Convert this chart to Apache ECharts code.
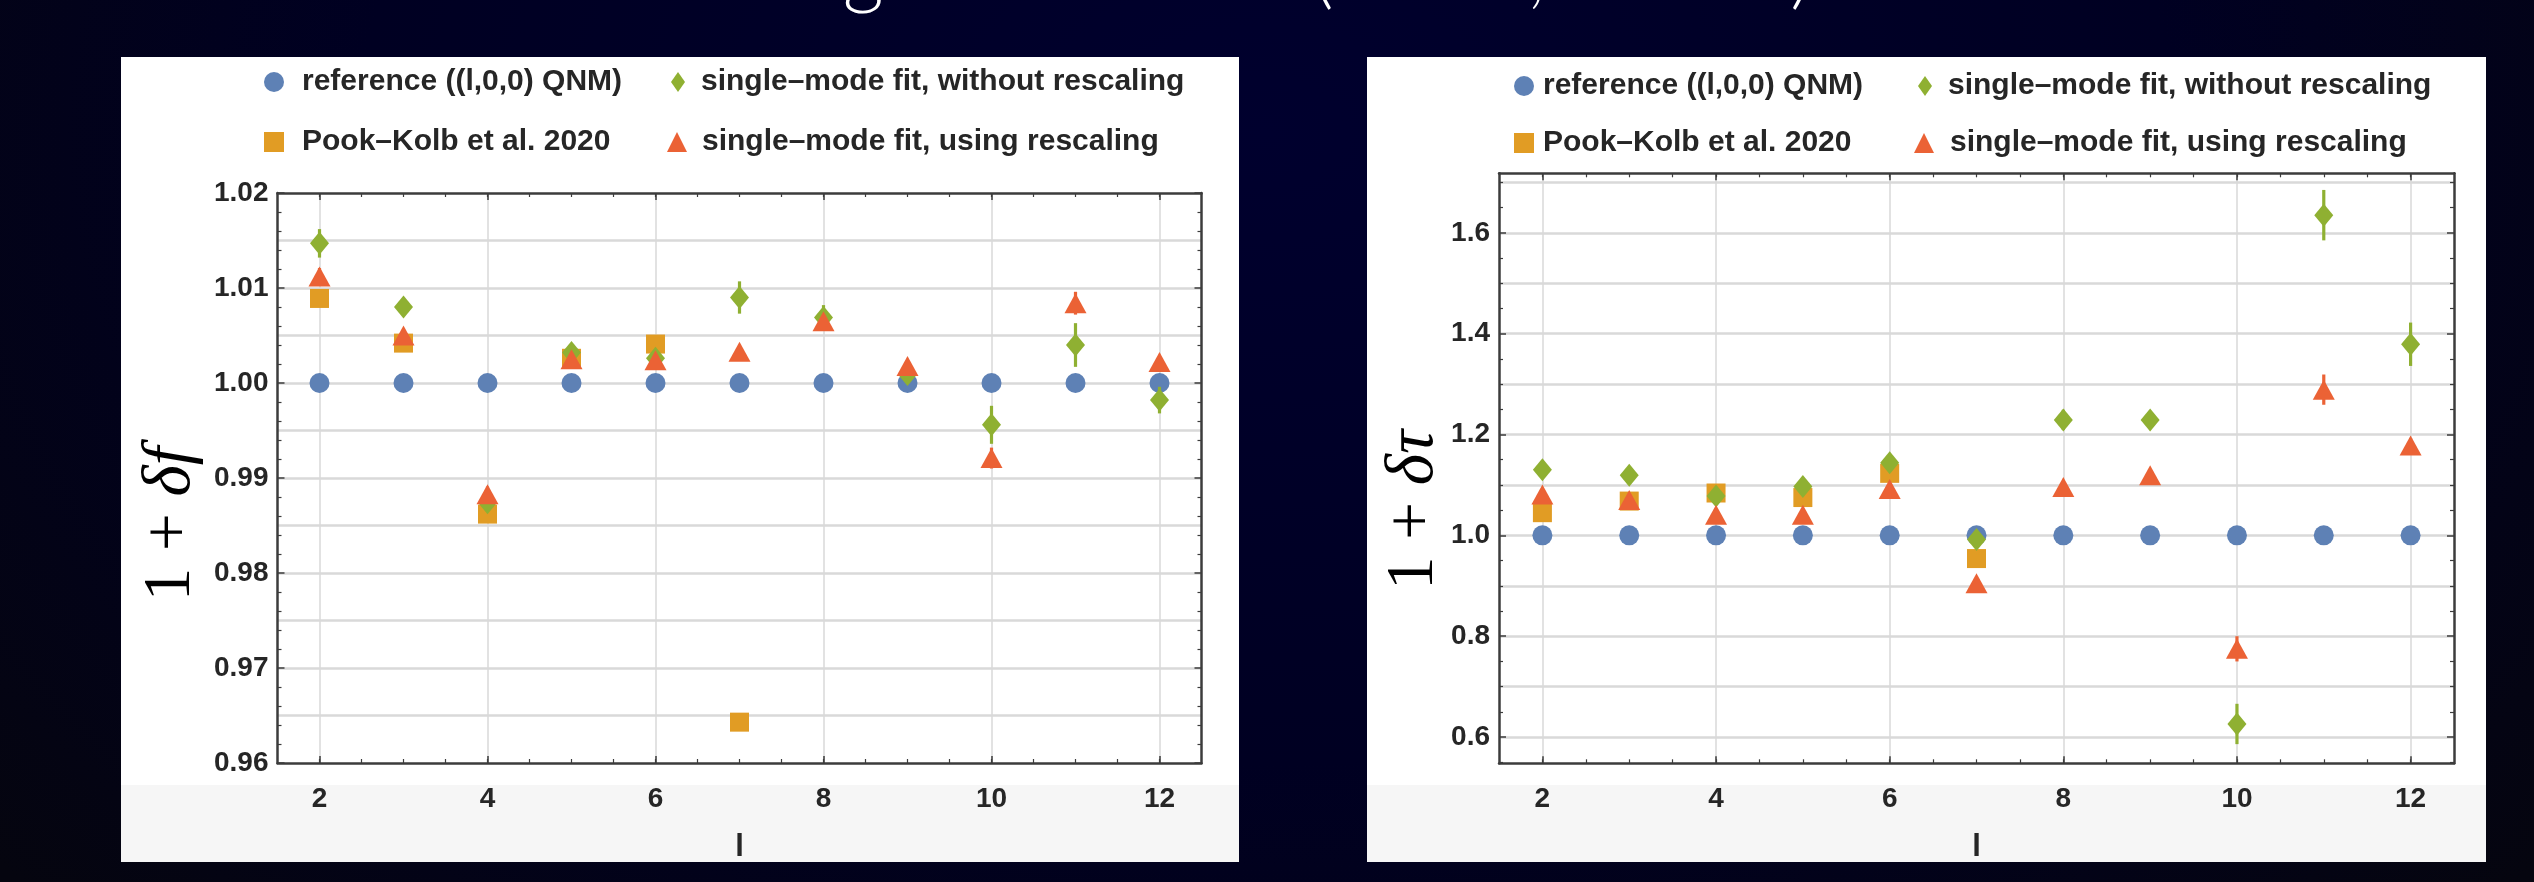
<!DOCTYPE html>
<html>
<head>
<meta charset="utf-8">
<script src="https://cdn.jsdelivr.net/npm/echarts@6/dist/echarts.min.js"></script>
<style>
  html, body { margin: 0; padding: 0; width: 2534px; height: 882px; overflow: hidden; }
  body {
    background: radial-gradient(ellipse 65% 130% at 50% 15%, #00002e 0%, #000022 55%, #05050f 100%);
  }
  .panel { position: absolute; top: 57px; height: 805px; background: #ffffff; }
  .panel .foot { position: absolute; left: 0; right: 0; bottom: 0; height: 77px; background: #f6f6f6; }
  #chart { position: absolute; left: 0; top: 0; width: 2534px; height: 882px; }
</style>
</head>
<body>
<div class="panel" style="left:121px;width:1118px"><div class="foot"></div></div>
<div class="panel" style="left:1367px;width:1119px"><div class="foot"></div></div>
<div id="chart"></div>
<script>
// ---- data: multipole index l and the fitted ratios ----
const ells = [2, 3, 4, 5, 6, 7, 8, 9, 10, 11, 12];
const pookElls = [2, 3, 4, 5, 6, 7];

// frequency ratio 1 + δf
const freqReference = [1, 1, 1, 1, 1, 1, 1, 1, 1, 1, 1];
const freqPookKolb = [1.0089, 1.0042, 0.9862, 1.0026, 1.0041, 0.9643];
const freqNoRescale = [1.0147, 1.0080, 0.9874, 1.0032, 1.0026, 1.0090, 1.0069, 1.0009, 0.9956, 1.0040, 0.9982];
const freqNoRescaleErr = [0.0015, 0.0003, 0.0003, 0.0003, 0.0003, 0.0017, 0.0013, 0.0003, 0.0020, 0.0023, 0.0014];
const freqRescale = [1.0112, 1.0050, 0.9883, 1.0025, 1.0024, 1.0033, 1.0065, 1.0018, 0.9921, 1.0084, 1.0022];
const freqRescaleErr = [0.0009, 0.0006, 0.0008, 0.0004, 0.0004, 0.0004, 0.0006, 0.0005, 0.0011, 0.0012, 0.0004];

// damping-time ratio 1 + δτ
const tauReference = [1, 1, 1, 1, 1, 1, 1, 1, 1, 1, 1];
const tauPookKolb = [1.045, 1.068, 1.084, 1.075, 1.123, 0.954];
const tauNoRescale = [1.130, 1.119, 1.078, 1.097, 1.144, 0.992, 1.229, 1.229, 0.626, 1.635, 1.379];
const tauNoRescaleErr = [0.008, 0.008, 0.008, 0.010, 0.015, 0.012, 0.020, 0.015, 0.040, 0.050, 0.043];
const tauRescale = [1.081, 1.070, 1.041, 1.041, 1.092, 0.905, 1.096, 1.119, 0.775, 1.289, 1.178];
const tauRescaleErr = [0.010, 0.008, 0.008, 0.008, 0.008, 0.010, 0.010, 0.010, 0.025, 0.030, 0.015];

// ---- ticks ----
const xTicks = [2, 4, 6, 8, 10, 12];
const xMinorTicks = [2, 2.5, 3, 3.5, 4, 4.5, 5, 5.5, 6, 6.5, 7, 7.5, 8, 8.5, 9, 9.5, 10, 10.5, 11, 11.5, 12];
const freqTicks = [0.96, 0.97, 0.98, 0.99, 1.00, 1.01, 1.02];
const freqMinorTicks = [0.962, 0.964, 0.966, 0.968, 0.972, 0.974, 0.976, 0.978, 0.982, 0.984, 0.986, 0.988,
  0.992, 0.994, 0.996, 0.998, 1.002, 1.004, 1.006, 1.008, 1.012, 1.014, 1.016, 1.018];
const freqGridLines = [0.965, 0.97, 0.975, 0.98, 0.985, 0.99, 0.995, 1.00, 1.005, 1.01, 1.015];
const tauTicks = [0.6, 0.8, 1.0, 1.2, 1.4, 1.6];
const tauMinorTicks = [0.55, 0.65, 0.7, 0.75, 0.85, 0.9, 0.95, 1.05, 1.1, 1.15, 1.25, 1.3, 1.35, 1.45, 1.5, 1.55, 1.65, 1.7];
const tauGridLines = [0.6, 0.7, 0.8, 0.9, 1.0, 1.1, 1.2, 1.3, 1.4, 1.5, 1.6, 1.7];

const legendNames = {
  ref: 'reference ((l,0,0) QNM)',
  pook: 'Pook\u2013Kolb et al. 2020',
  noResc: 'single\u2013mode fit, without rescaling',
  resc: 'single\u2013mode fit, using rescaling'
};

const colors = { ref: '#5e81b5', pook: '#e19c24', noResc: '#8fb032', resc: '#eb6235' };

const FONT = '"Liberation Sans", Arial, sans-serif';
const SERIF = '"Liberation Serif", "DejaVu Serif", serif';
const frameColor = '#3c3c3c';
const labelColor = '#262626';

// ---- axis builders: a Mathematica-style frame with inward ticks on all four sides ----
const xAxes = [];
const yAxes = [];

function addXAxes(gridIndex) {
  const base = { type: 'value', gridIndex, min: 1.5, max: 12.5 };
  const mainIdx = xAxes.length;
  xAxes.push(Object.assign({}, base, {
    position: 'bottom',
    axisLine: { show: true, onZero: false, lineStyle: { color: frameColor, width: 2.5 } },
    axisTick: { show: true, inside: true, length: 7, customValues: xTicks, lineStyle: { color: frameColor, width: 1.5 } },
    axisLabel: { show: true, customValues: xTicks, margin: 22, fontFamily: FONT, fontSize: 28, fontWeight: 'bold', color: labelColor },
    splitLine: { show: true, lineStyle: { color: '#d8d8d8', width: 1.5 } },
    name: 'l', nameLocation: 'middle', nameGap: 69,
    nameTextStyle: { fontFamily: FONT, fontSize: 31, fontWeight: 'bold', color: labelColor }
  }));
  xAxes.push(Object.assign({}, base, {
    position: 'bottom',
    axisLine: { show: false }, axisLabel: { show: false }, splitLine: { show: false },
    axisTick: { show: true, inside: true, length: 4, customValues: xMinorTicks, lineStyle: { color: frameColor, width: 1.2 } }
  }));
  xAxes.push(Object.assign({}, base, {
    position: 'top',
    axisLine: { show: true, onZero: false, lineStyle: { color: frameColor, width: 2.5 } },
    axisTick: { show: true, inside: true, length: 7, customValues: xTicks, lineStyle: { color: frameColor, width: 1.5 } },
    axisLabel: { show: false }, splitLine: { show: false }
  }));
  xAxes.push(Object.assign({}, base, {
    position: 'top',
    axisLine: { show: false }, axisLabel: { show: false }, splitLine: { show: false },
    axisTick: { show: true, inside: true, length: 4, customValues: xMinorTicks, lineStyle: { color: frameColor, width: 1.2 } }
  }));
  return mainIdx;
}

function addYAxes(gridIndex, min, max, ticks, minorTicks, gridLines, digits) {
  const base = { type: 'value', gridIndex, min, max };
  const mainIdx = yAxes.length;
  yAxes.push(Object.assign({}, base, {
    position: 'left',
    axisLine: { show: true, onZero: false, lineStyle: { color: frameColor, width: 2.5 } },
    axisTick: { show: true, inside: true, length: 7, customValues: ticks, lineStyle: { color: frameColor, width: 1.5 } },
    axisLabel: {
      show: true, customValues: ticks, margin: 9, fontFamily: FONT, fontSize: 28, fontWeight: 'bold', color: labelColor,
      formatter: v => v.toFixed(digits)
    },
    splitLine: { show: false }
  }));
  yAxes.push(Object.assign({}, base, {
    position: 'left',
    axisLine: { show: false }, axisLabel: { show: false }, splitLine: { show: false },
    axisTick: { show: true, inside: true, length: 4, customValues: minorTicks, lineStyle: { color: frameColor, width: 1.2 } }
  }));
  yAxes.push(Object.assign({}, base, {
    position: 'right',
    axisLine: { show: true, onZero: false, lineStyle: { color: frameColor, width: 2.5 } },
    axisTick: { show: true, inside: true, length: 7, customValues: ticks, lineStyle: { color: frameColor, width: 1.5 } },
    axisLabel: { show: false }, splitLine: { show: false }
  }));
  yAxes.push(Object.assign({}, base, {
    position: 'right',
    axisLine: { show: false }, axisLabel: { show: false }, splitLine: { show: false },
    axisTick: { show: true, inside: true, length: 4, customValues: minorTicks, lineStyle: { color: frameColor, width: 1.2 } }
  }));
  // horizontal grid lines
  yAxes.push(Object.assign({}, base, {
    position: 'left',
    axisLine: { show: false }, axisLabel: { show: false },
    axisTick: { show: false, customValues: gridLines },
    splitLine: { show: true, lineStyle: { color: '#d9d9d9', width: 2.6 } }
  }));
  return mainIdx;
}

const xL = addXAxes(0);
const yL = addYAxes(0, 0.96, 1.02, freqTicks, freqMinorTicks, freqGridLines, 2);
const xR = addXAxes(1);
const yR = addYAxes(1, 0.548, 1.718, tauTicks, tauMinorTicks, tauGridLines, 1);

// ---- series helpers ----
function pairs(xs, ys) { return xs.map((x, i) => [x, ys[i]]); }
function triples(xs, ys, es) { return xs.map((x, i) => [x, ys[i], es[i]]); }

function errorBarItem(params, api) {
  const x = api.value(0), y = api.value(1), e = api.value(2);
  const lo = api.coord([x, y - e]);
  const hi = api.coord([x, y + e]);
  return {
    type: 'line',
    shape: { x1: lo[0], y1: lo[1], x2: hi[0], y2: hi[1] },
    style: { stroke: api.visual('color'), lineWidth: 3.2 }
  };
}

function panelSeries(xi, yi, ref, pook, noResc, noRescErr, resc, rescErr) {
  const common = { xAxisIndex: xi, yAxisIndex: yi, silent: true };
  return [
    Object.assign({}, common, {
      type: 'scatter', name: legendNames.ref, data: pairs(ells, ref), z: 2,
      symbol: 'circle', symbolSize: 20, itemStyle: { color: colors.ref, opacity: 1 }
    }),
    Object.assign({}, common, {
      type: 'scatter', name: legendNames.pook, data: pairs(pookElls, pook), z: 3,
      symbol: 'rect', symbolSize: 19, itemStyle: { color: colors.pook, opacity: 1 }
    }),
    Object.assign({}, common, {
      type: 'custom', name: legendNames.noResc, data: triples(ells, noResc, noRescErr), z: 4,
      renderItem: errorBarItem, encode: { x: 0, y: 1 }, itemStyle: { color: colors.noResc }
    }),
    Object.assign({}, common, {
      type: 'scatter', name: legendNames.noResc, data: pairs(ells, noResc), z: 5,
      symbol: 'diamond', symbolSize: [19, 23], itemStyle: { color: colors.noResc, opacity: 1 }
    }),
    Object.assign({}, common, {
      type: 'custom', name: legendNames.resc, data: triples(ells, resc, rescErr), z: 6,
      renderItem: errorBarItem, encode: { x: 0, y: 1 }, itemStyle: { color: colors.resc }
    }),
    Object.assign({}, common, {
      type: 'scatter', name: legendNames.resc, data: pairs(ells, resc), z: 7,
      symbol: 'triangle', symbolSize: [22, 20], itemStyle: { color: colors.resc, opacity: 1 }
    })
  ];
}

const series = [].concat(
  panelSeries(xL, yL, freqReference, freqPookKolb, freqNoRescale, freqNoRescaleErr, freqRescale, freqRescaleErr),
  panelSeries(xR, yR, tauReference, tauPookKolb, tauNoRescale, tauNoRescaleErr, tauRescale, tauRescaleErr)
);

// ---- legends: two rows of two entries above each plot ----
function legendItem(name, icon, left, top, w, pad) {
  return {
    data: [{ name, icon }], left, top, padding: 0, selectedMode: false,
    itemWidth: w, itemHeight: 20, itemGap: 0,
    textStyle: { fontFamily: FONT, fontSize: 30, fontWeight: 'bold', color: labelColor, padding: [0, 0, 0, pad] }
  };
}
const legends = [
  legendItem(legendNames.ref, 'circle', 264, 67, 20, 13),
  legendItem(legendNames.noResc, 'diamond', 671, 67, 14, 11),
  legendItem(legendNames.pook, 'rect', 264, 127, 20, 13),
  legendItem(legendNames.resc, 'triangle', 667, 127, 20, 10),
  legendItem(legendNames.ref, 'circle', 1514, 71, 20, 4),
  legendItem(legendNames.noResc, 'diamond', 1918, 71, 14, 11),
  legendItem(legendNames.pook, 'rect', 1514, 128, 20, 4),
  legendItem(legendNames.resc, 'triangle', 1914, 128, 20, 11)
];

const chart = echarts.init(document.getElementById('chart'), null, { renderer: 'canvas' });
chart.setOption({
  animation: false,
  backgroundColor: 'transparent',
  grid: [
    { left: 277.5, top: 193, width: 924, height: 570 },
    { left: 1499, top: 173.3, width: 955, height: 590 }
  ],
  xAxis: xAxes,
  yAxis: yAxes,
  legend: legends,
  series,
  graphic: {
    elements: [
      // slide heading, mostly above the top edge of the page
      {
        type: 'text', x: 733, y: 13,
        style: { text: 'Ringdown fits', fill: '#ffffff', fontFamily: 'Lato, "Open Sans", sans-serif', fontWeight: 300, fontSize: 80, verticalAlign: 'bottom' }
      },
      {
        type: 'text', x: 1313, y: 13,
        style: { text: '(\u2113 = m,  n = 0 )', fill: '#ffffff', fontFamily: 'Lato, "Open Sans", sans-serif', fontWeight: 300, fontSize: 80, verticalAlign: 'bottom' }
      },
      {
        type: 'text', x: 171, y: 524, rotation: Math.PI / 2,
        style: {
          text: '1 + {i|\u03b4f}', fill: '#000', align: 'center', verticalAlign: 'middle',
          fontFamily: SERIF, fontSize: 67,
          rich: { i: { fontStyle: 'italic', fontSize: 67, fontFamily: SERIF, fill: '#000' } }
        }
      },
      {
        type: 'text', x: 1414, y: 510, rotation: Math.PI / 2,
        style: {
          text: '1 + {i|\u03b4\u03c4}', fill: '#000', align: 'center', verticalAlign: 'middle',
          fontFamily: SERIF, fontSize: 67,
          rich: { i: { fontStyle: 'italic', fontSize: 67, fontFamily: SERIF, fill: '#000' } }
        }
      }
    ]
  }
});
</script>
</body>
</html>
